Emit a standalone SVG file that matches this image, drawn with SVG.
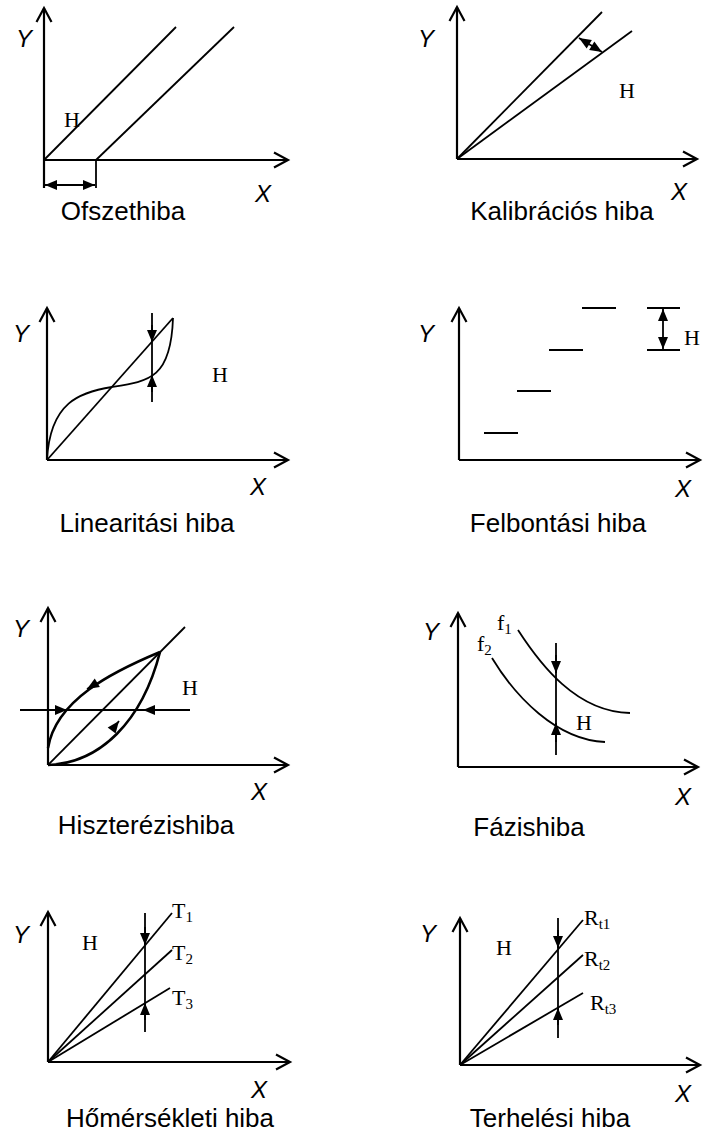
<svg xmlns="http://www.w3.org/2000/svg" width="704" height="1135" viewBox="0 0 704 1135">
<style>
.ax{fill:none;stroke:#000;stroke-width:2.2}
.ln{fill:none;stroke:#000;stroke-width:1.8}
.thk{fill:none;stroke:#000;stroke-width:2.6}
.cap{font-family:"Liberation Sans",Arial,sans-serif;font-size:26px;text-anchor:middle;fill:#000}
.axl{font-family:"Liberation Sans",Arial,sans-serif;font-size:24px;font-style:italic;fill:#000}
.h{font-family:"Liberation Serif","Times New Roman",serif;font-size:22px;fill:#000}
.sub{font-size:15px}
</style>
<defs>
<marker id="open" markerUnits="userSpaceOnUse" markerWidth="20" markerHeight="20" refX="0" refY="0" orient="auto" style="overflow:visible"><path d="M-14,-7.5 L0,0 L-14,7.5" fill="none" stroke="#000" stroke-width="2.2"/></marker>
<marker id="fill" markerUnits="userSpaceOnUse" markerWidth="20" markerHeight="20" refX="0" refY="0" orient="auto-start-reverse" style="overflow:visible"><path d="M-12,-5 L0,0 L-12,5 Z" fill="#000"/></marker>
</defs>

<g id="ofszet">
<path class="ax" d="M44,188 L44,8" marker-end="url(#open)"/>
<path class="ax" d="M44,160 L288,160" marker-end="url(#open)"/>
<path class="ln" d="M44,160 L176,27"/>
<path class="ln" d="M96,160 L234,27"/>
<path class="ln" d="M96,160 L96,188"/>
<path class="ln" d="M45,185 L95,185" marker-start="url(#fill)" marker-end="url(#fill)"/>
<text class="axl" x="16" y="47">Y</text>
<text class="axl" x="255" y="202">X</text>
<text class="h" x="64" y="127">H</text>
<text class="cap" x="123" y="220">Ofszethiba</text>
</g>

<g id="kalibracio">
<path class="ax" d="M457,159 L457,7" marker-end="url(#open)"/>
<path class="ax" d="M457,159 L697,159" marker-end="url(#open)"/>
<path class="ln" d="M457,159 L602,12"/>
<path class="ln" d="M457,159 L632,31"/>
<path class="ln" d="M579,38 L602,52" marker-start="url(#fill)" marker-end="url(#fill)"/>
<text class="axl" x="418" y="47">Y</text>
<text class="axl" x="671" y="200">X</text>
<text class="h" x="619" y="98">H</text>
<text class="cap" x="562" y="220">Kalibrációs hiba</text>
</g>

<g id="linearitas">
<path class="ax" d="M47,460 L47,308" marker-end="url(#open)"/>
<path class="ax" d="M47,460 L288,460" marker-end="url(#open)"/>
<path class="ln" d="M47,460 L173,318"/>
<path class="ln" d="M47,460 C50,402 80,392 112,387 C150,381 171,378 173,318"/>
<path class="ln" d="M152,313 L152,402"/>
<path class="ln" d="M152,325 L152,342" marker-end="url(#fill)"/>
<path class="ln" d="M152,392 L152,375" marker-end="url(#fill)"/>
<text class="axl" x="13" y="342">Y</text>
<text class="axl" x="250" y="495">X</text>
<text class="h" x="212" y="382">H</text>
<text class="cap" x="147" y="532">Linearitási hiba</text>
</g>

<g id="felbontas">
<path class="ax" d="M459,460 L459,308" marker-end="url(#open)"/>
<path class="ax" d="M459,460 L700,460" marker-end="url(#open)"/>
<path class="ax" d="M484,433 L518,433 M517,391 L551,391 M549,350 L583,350 M582,308 L616,308"/>
<path class="ax" d="M647,308 L680,308 M647,350 L680,350"/>
<path class="ln" d="M663,309 L663,349" marker-start="url(#fill)" marker-end="url(#fill)"/>
<text class="axl" x="418" y="342">Y</text>
<text class="axl" x="675" y="497">X</text>
<text class="h" x="684" y="345">H</text>
<text class="cap" x="558" y="532">Felbontási hiba</text>
</g>

<g id="hiszterezis">
<path class="ax" d="M48,765 L48,608" marker-end="url(#open)"/>
<path class="ax" d="M48,765 L288,765" marker-end="url(#open)"/>
<path class="ln" d="M48,765 L185,627"/>
<path class="thk" d="M160,652 C112,672 56,700 48,748"/>
<path class="thk" d="M48,765 C100,763 142,722 160,652"/>
<path class="ln" d="M20,710 L190,710"/>
<path class="ln" d="M52,710 L67,710" marker-end="url(#fill)"/>
<path class="ln" d="M158,710 L143,710" marker-end="url(#fill)"/>
<path class="ln" d="M97,683 L87,689" marker-end="url(#fill)"/>
<path class="ln" d="M112,730 L119,721" marker-end="url(#fill)"/>
<text class="axl" x="13" y="637">Y</text>
<text class="axl" x="251" y="800">X</text>
<text class="h" x="182" y="695">H</text>
<text class="cap" x="146" y="834">Hiszterézishiba</text>
</g>

<g id="fazis">
<path class="ax" d="M458,767 L458,613" marker-end="url(#open)"/>
<path class="ax" d="M458,767 L698,767" marker-end="url(#open)"/>
<path class="ln" d="M518,630 C540,664 576,712 630,713"/>
<path class="ln" d="M492,658 C515,696 556,740 605,742"/>
<path class="ln" d="M556,643 L556,755"/>
<path class="ln" d="M556,655 L556,673" marker-end="url(#fill)"/>
<path class="ln" d="M556,742 L556,723" marker-end="url(#fill)"/>
<text class="axl" x="423" y="640">Y</text>
<text class="axl" x="675" y="805">X</text>
<text class="h" x="576" y="730">H</text>
<text class="h" x="497" y="630">f<tspan class="sub" dy="4">1</tspan></text>
<text class="h" x="477" y="651">f<tspan class="sub" dy="4">2</tspan></text>
<text class="cap" x="529" y="836">Fázishiba</text>
</g>

<g id="homerseklet">
<path class="ax" d="M48,1062 L48,912" marker-end="url(#open)"/>
<path class="ax" d="M48,1062 L290,1062" marker-end="url(#open)"/>
<path class="ln" d="M48,1062 L172,913"/>
<path class="ln" d="M48,1062 L172,950"/>
<path class="ln" d="M48,1062 L170,988"/>
<path class="ln" d="M145,913 L145,1032"/>
<path class="ln" d="M145,927 L145,945" marker-end="url(#fill)"/>
<path class="ln" d="M145,1020 L145,1003" marker-end="url(#fill)"/>
<text class="axl" x="13" y="943">Y</text>
<text class="axl" x="251" y="1098">X</text>
<text class="h" x="82" y="950">H</text>
<text class="h" x="172" y="918">T<tspan class="sub" dy="4">1</tspan></text>
<text class="h" x="172" y="960">T<tspan class="sub" dy="4">2</tspan></text>
<text class="h" x="172" y="1005">T<tspan class="sub" dy="4">3</tspan></text>
<text class="cap" x="170" y="1127">Hőmérsékleti hiba</text>
</g>

<g id="terheles">
<path class="ax" d="M460,1065 L460,918" marker-end="url(#open)"/>
<path class="ax" d="M460,1065 L700,1065" marker-end="url(#open)"/>
<path class="ln" d="M460,1065 L583,920"/>
<path class="ln" d="M460,1065 L583,955"/>
<path class="ln" d="M460,1065 L583,993"/>
<path class="ln" d="M558,918 L558,1038"/>
<path class="ln" d="M558,930 L558,948" marker-end="url(#fill)"/>
<path class="ln" d="M558,1025 L558,1008" marker-end="url(#fill)"/>
<text class="axl" x="420" y="942">Y</text>
<text class="axl" x="675" y="1102">X</text>
<text class="h" x="496" y="955">H</text>
<text class="h" x="584" y="925">R<tspan class="sub" dy="4">t1</tspan></text>
<text class="h" x="584" y="966">R<tspan class="sub" dy="4">t2</tspan></text>
<text class="h" x="590" y="1010">R<tspan class="sub" dy="4">t3</tspan></text>
<text class="cap" x="550" y="1127">Terhelési hiba</text>
</g>
</svg>
